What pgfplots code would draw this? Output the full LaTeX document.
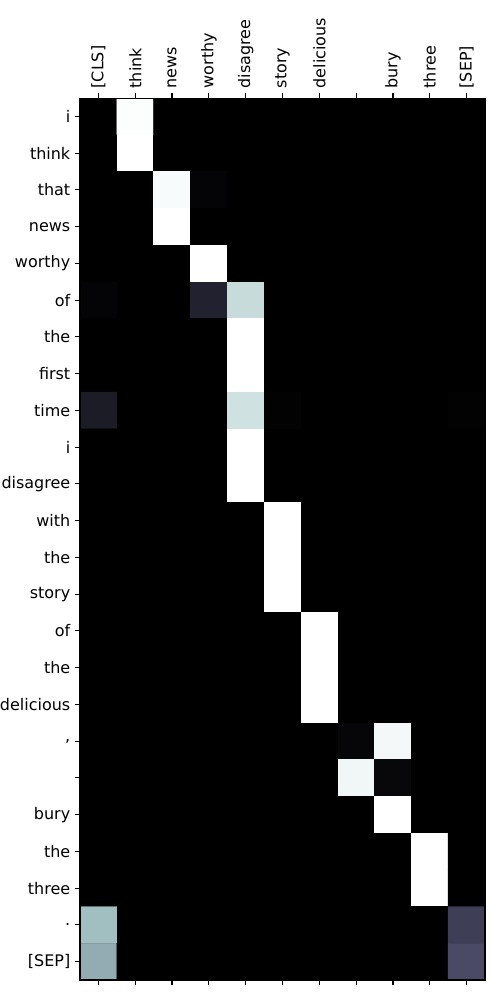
\documentclass[border=0pt]{standalone}
\usepackage{pgfplots}
\pgfplotsset{compat=1.18}
\usepackage{fontspec}
\setmainfont{DejaVu Sans}
\pgfplotstableread[row sep=\\]{
x y c\\
0 0 0\\ 1 0 0.99\\ 2 0 0\\ 3 0 0\\ 4 0 0\\ 5 0 0\\ 6 0 0\\ 7 0 0\\ 8 0 0\\ 9 0 0\\ 10 0 0\\
0 1 0\\ 1 1 1\\ 2 1 0\\ 3 1 0\\ 4 1 0\\ 5 1 0\\ 6 1 0\\ 7 1 0\\ 8 1 0\\ 9 1 0\\ 10 1 0\\
0 2 0\\ 1 2 0\\ 2 2 0.98\\ 3 2 0.02\\ 4 2 0\\ 5 2 0\\ 6 2 0\\ 7 2 0\\ 8 2 0\\ 9 2 0\\ 10 2 0\\
0 3 0\\ 1 3 0\\ 2 3 1\\ 3 3 0\\ 4 3 0\\ 5 3 0\\ 6 3 0\\ 7 3 0\\ 8 3 0\\ 9 3 0\\ 10 3 0\\
0 4 0\\ 1 4 0\\ 2 4 0\\ 3 4 1\\ 4 4 0\\ 5 4 0\\ 6 4 0\\ 7 4 0\\ 8 4 0\\ 9 4 0\\ 10 4 0\\
0 5 0.02\\ 1 5 0\\ 2 5 0\\ 3 5 0.15\\ 4 5 0.84\\ 5 5 0\\ 6 5 0\\ 7 5 0\\ 8 5 0\\ 9 5 0\\ 10 5 0\\
0 6 0\\ 1 6 0\\ 2 6 0\\ 3 6 0\\ 4 6 1\\ 5 6 0\\ 6 6 0\\ 7 6 0\\ 8 6 0\\ 9 6 0\\ 10 6 0\\
0 7 0\\ 1 7 0\\ 2 7 0\\ 3 7 0\\ 4 7 1\\ 5 7 0\\ 6 7 0\\ 7 7 0\\ 8 7 0\\ 9 7 0\\ 10 7 0\\
0 8 0.125\\ 1 8 0\\ 2 8 0\\ 3 8 0\\ 4 8 0.865\\ 5 8 0.01\\ 6 8 0\\ 7 8 0\\ 8 8 0\\ 9 8 0\\ 10 8 0.01\\
0 9 0\\ 1 9 0\\ 2 9 0\\ 3 9 0\\ 4 9 1\\ 5 9 0\\ 6 9 0\\ 7 9 0\\ 8 9 0\\ 9 9 0\\ 10 9 0\\
0 10 0\\ 1 10 0\\ 2 10 0\\ 3 10 0\\ 4 10 1\\ 5 10 0\\ 6 10 0\\ 7 10 0\\ 8 10 0\\ 9 10 0\\ 10 10 0\\
0 11 0\\ 1 11 0\\ 2 11 0\\ 3 11 0\\ 4 11 0\\ 5 11 1\\ 6 11 0\\ 7 11 0\\ 8 11 0\\ 9 11 0\\ 10 11 0\\
0 12 0\\ 1 12 0\\ 2 12 0\\ 3 12 0\\ 4 12 0\\ 5 12 1\\ 6 12 0\\ 7 12 0\\ 8 12 0\\ 9 12 0\\ 10 12 0\\
0 13 0\\ 1 13 0\\ 2 13 0\\ 3 13 0\\ 4 13 0\\ 5 13 1\\ 6 13 0\\ 7 13 0\\ 8 13 0\\ 9 13 0\\ 10 13 0\\
0 14 0\\ 1 14 0\\ 2 14 0\\ 3 14 0\\ 4 14 0\\ 5 14 0\\ 6 14 1\\ 7 14 0\\ 8 14 0\\ 9 14 0\\ 10 14 0\\
0 15 0\\ 1 15 0\\ 2 15 0\\ 3 15 0\\ 4 15 0\\ 5 15 0\\ 6 15 1\\ 7 15 0\\ 8 15 0\\ 9 15 0\\ 10 15 0\\
0 16 0\\ 1 16 0\\ 2 16 0\\ 3 16 0\\ 4 16 0\\ 5 16 0\\ 6 16 1\\ 7 16 0\\ 8 16 0\\ 9 16 0\\ 10 16 0\\
0 17 0\\ 1 17 0\\ 2 17 0\\ 3 17 0\\ 4 17 0\\ 5 17 0\\ 6 17 0\\ 7 17 0.025\\ 8 17 0.97\\ 9 17 0\\ 10 17 0\\
0 18 0\\ 1 18 0\\ 2 18 0\\ 3 18 0\\ 4 18 0\\ 5 18 0\\ 6 18 0\\ 7 18 0.96\\ 8 18 0.035\\ 9 18 0\\ 10 18 0\\
0 19 0\\ 1 19 0\\ 2 19 0\\ 3 19 0\\ 4 19 0\\ 5 19 0\\ 6 19 0\\ 7 19 0\\ 8 19 1\\ 9 19 0\\ 10 19 0\\
0 20 0\\ 1 20 0\\ 2 20 0\\ 3 20 0\\ 4 20 0\\ 5 20 0\\ 6 20 0\\ 7 20 0\\ 8 20 0\\ 9 20 1\\ 10 20 0\\
0 21 0\\ 1 21 0\\ 2 21 0\\ 3 21 0\\ 4 21 0\\ 5 21 0\\ 6 21 0\\ 7 21 0\\ 8 21 0\\ 9 21 1\\ 10 21 0\\
0 22 0.72\\ 1 22 0\\ 2 22 0\\ 3 22 0\\ 4 22 0\\ 5 22 0\\ 6 22 0\\ 7 22 0\\ 8 22 0\\ 9 22 0\\ 10 22 0.28\\
0 23 0.66\\ 1 23 0\\ 2 23 0\\ 3 23 0\\ 4 23 0\\ 5 23 0\\ 6 23 0\\ 7 23 0\\ 8 23 0\\ 9 23 0\\ 10 23 0.33\\
}\attn
\begin{document}
\begin{tikzpicture}
\useasboundingbox (0,0) rectangle (360pt,720pt);
\begin{axis}[
  at={(57.6pt,14.4pt)}, anchor=south west,
  scale only axis, width=291.6pt, height=635pt,
  xmin=-0.5, xmax=10.5, ymin=-0.5, ymax=23.5,
  enlargelimits=false, y dir=reverse,
  axis background/.style={fill=black},
  colormap={bone}{rgb(0pt)=(0,0,0); rgb(365pt)=(0.319444,0.319444,0.444444); rgb(746pt)=(0.652778,0.777778,0.777778); rgb(1000pt)=(1,1,1)},
  point meta min=0, point meta max=1,
  xtick={0,...,10}, ytick={0,...,23},
  xticklabels={{[CLS]},think,news,worthy,disagree,story,delicious,{},bury,three,{[SEP]}},
  yticklabels={i,think,that,news,worthy,of,the,first,time,i,disagree,with,the,story,of,the,delicious,{,},{},bury,the,three,{.},{[SEP]}},
  xticklabel pos=upper, xtick pos=both, ytick pos=left,
  tick align=outside, major tick length=3.5pt,
  tick style={black, line width=0.8pt},
  axis line style={line width=0.8pt},
  axis on top,
  xticklabel style={rotate=90, anchor=west, font=\fontsize{11.5}{13}\selectfont},
  yticklabel style={font=\fontsize{11.5}{13}\selectfont},
]
\addplot[matrix plot, line width=0.3pt, mesh/cols=11, point meta=explicit] table[x=x, y=y, meta=c] {\attn};
\end{axis}
\end{tikzpicture}
\end{document}
